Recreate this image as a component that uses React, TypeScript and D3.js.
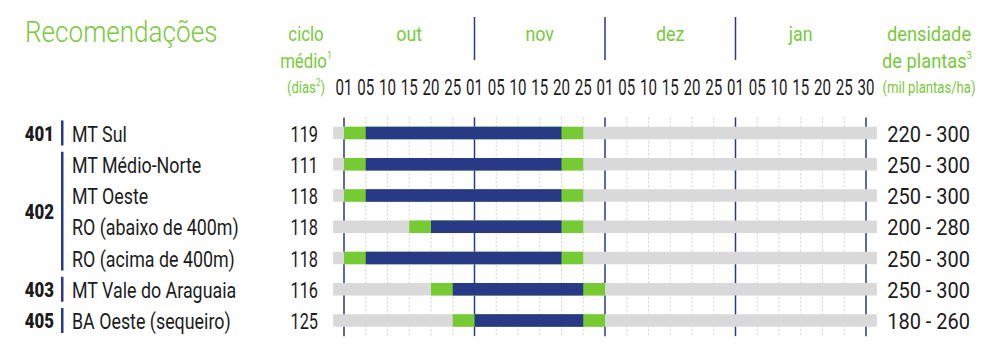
import React from "react";
import * as d3 from "d3";

// ---- data ----
const regions = [
  "MT Sul",
  "MT Médio-Norte",
  "MT Oeste",
  "RO (abaixo de 400m)",
  "RO (acima de 400m)",
  "MT Vale do Araguaia",
  "BA Oeste (sequeiro)",
];
const cycleDays = [119, 111, 118, 118, 118, 116, 125];
const density = ["220 - 300", "250 - 300", "250 - 300", "200 - 280", "250 - 300", "250 - 300", "180 - 260"];

const groupCodes = ["401", "402", "403", "405"];
const groupFirst = [0, 1, 5, 6];
const groupLast = [0, 4, 5, 6];

const months = ["out", "nov", "dez", "jan"];
const monthDays = [
  ["01", "05", "10", "15", "20", "25"],
  ["01", "05", "10", "15", "20", "25"],
  ["01", "05", "10", "15", "20", "25"],
  ["01", "05", "10", "15", "20", "25", "30"],
];

// sowing window, in 5-day slot indices from 01/out (0) to 30/jan (24)
const greenStart = [0, 0, 0, 3, 0, 4, 5];
const blueStart = [1, 1, 1, 4, 1, 5, 6];
const blueEnd = [10, 10, 10, 10, 10, 11, 11];
const greenEnd = [11, 11, 11, 11, 11, 12, 12];

// ---- style ----
const GREEN = "#76cb33";
const TXT_GREEN = "#78c93c";
const NAVY = "#283986";
const GRAY = "#d9d9d9";
const INK = "#1c1c1c";
const FONT = "Roboto, 'Noto Sans', sans-serif";

type TProps = {
  x: number;
  y: number;
  sx?: number;
  anchor?: "start" | "middle" | "end";
  size: number;
  weight?: number;
  fill?: string;
  children: React.ReactNode;
};
function T({ x, y, sx = 1, anchor = "start", size, weight = 400, fill = INK, children }: TProps) {
  return (
    <text
      transform={`translate(${x},${y}) scale(${sx},1)`}
      textAnchor={anchor}
      fontSize={size}
      fontWeight={weight}
      fill={fill}
      fontFamily={FONT}
    >
      {children}
    </text>
  );
}

export default function App() {
  const W = 1000;
  const H = 359;
  const nSlots = 24;
  const x = d3.scaleLinear().domain([0, nSlots]).range([344, 866]);
  const y = d3
    .scalePoint<number>()
    .domain(d3.range(regions.length))
    .range([133, 320.5]);
  const step = y.step();
  const barH = 12.5;
  const gridTop = y(0)! - step / 2;
  const gridBot = y(regions.length - 1)! + step / 2;

  const monthStarts = months.map((_, i) => i * 6);
  const ticks: { slot: number; label: string }[] = [];
  monthDays.forEach((days, mi) => days.forEach((d, di) => ticks.push({ slot: mi * 6 + di, label: d })));
  const monthLineSlots = [0, 6, 12, 18, 24];
  const dottedSlots = d3.range(0, nSlots + 1).filter((s) => !monthLineSlots.includes(s));

  return (
    <svg width={W} height={H} style={{ position: "absolute", left: 0, top: 0, background: "#fff" }}>
      {/* header */}
      <T x={25} y={42} size={29} sx={0.9} weight={300} fill={TXT_GREEN}>Recomendações</T>
      <T x={306} y={41} size={21} sx={0.8} anchor="middle" fill={TXT_GREEN}>ciclo</T>
      <T x={306} y={68} size={21} sx={0.8} anchor="middle" fill={TXT_GREEN}>
        médio<tspan fontSize={11} dy={-9}>1</tspan>
      </T>
      <T x={306} y={93} size={16} sx={0.82} anchor="middle" fill={TXT_GREEN}>
        (dias<tspan fontSize={10} dy={-7}>2</tspan>
        <tspan dy={7}>)</tspan>
      </T>
      {months.map((m, i) => (
        <T key={m} x={x(monthStarts[i] + 3)} y={41} size={21} sx={0.85} anchor="middle" fill={TXT_GREEN}>
          {m}
        </T>
      ))}
      {[6, 12, 18].map((s) => (
        <line key={"h" + s} x1={x(s)} x2={x(s)} y1={17} y2={60} stroke={NAVY} strokeWidth={1.5} />
      ))}
      <T x={929} y={41} size={21} sx={0.87} anchor="middle" fill={TXT_GREEN}>densidade</T>
      <T x={927} y={68} size={21} sx={0.87} anchor="middle" fill={TXT_GREEN}>
        de plantas<tspan fontSize={11} dy={-9}>3</tspan>
      </T>
      <T x={929} y={93} size={16} sx={0.82} anchor="middle" fill={TXT_GREEN}>(mil plantas/ha)</T>

      {/* day ticks */}
      {ticks.map((t, i) => (
        <T key={"t" + i} x={x(t.slot)} y={95} size={21.5} sx={0.7} anchor="middle">
          {t.label}
        </T>
      ))}

      {/* grid */}
      {dottedSlots.map((s) => (
        <line
          key={"g" + s}
          x1={x(s)}
          x2={x(s)}
          y1={gridTop}
          y2={gridBot}
          stroke="#cfcfcf"
          strokeWidth={1}
          strokeDasharray="2,2"
        />
      ))}
      {monthLineSlots.map((s) => (
        <line key={"m" + s} x1={x(s)} x2={x(s)} y1={gridTop} y2={gridBot} stroke={NAVY} strokeWidth={1.5} />
      ))}

      {/* bars */}
      {regions.map((r, i) => {
        const cy = y(i)!;
        return (
          <g key={r}>
            <rect x={x(-0.5)} y={cy - barH / 2} width={x(nSlots + 0.5) - x(-0.5)} height={barH} fill={GRAY} />
            <rect
              x={x(greenStart[i])}
              y={cy - barH / 2}
              width={x(greenEnd[i]) - x(greenStart[i])}
              height={barH}
              fill={GREEN}
            />
            <rect
              x={x(blueStart[i])}
              y={cy - barH / 2}
              width={x(blueEnd[i]) - x(blueStart[i])}
              height={barH}
              fill={NAVY}
            />
            <T x={72} y={cy + 8.5} size={21.5} sx={0.83}>{r}</T>
            <T x={318} y={cy + 8.5} size={21.5} sx={0.76} anchor="end">{cycleDays[i]}</T>
            <T x={970} y={cy + 8.5} size={21.5} sx={0.93} anchor="end">{density[i]}</T>
          </g>
        );
      })}

      {/* group codes */}
      {groupCodes.map((c, gi) => {
        const y0 = y(groupFirst[gi])! - 12.5;
        const y1 = y(groupLast[gi])! + 12.5;
        return (
          <g key={c}>
            <rect x={61} y={y0} width={2.5} height={y1 - y0} fill={NAVY} />
            <T x={54} y={(y0 + y1) / 2 + 7.5} size={21} weight={900} sx={0.8} anchor="end">
              {c}
            </T>
          </g>
        );
      })}
    </svg>
  );
}
